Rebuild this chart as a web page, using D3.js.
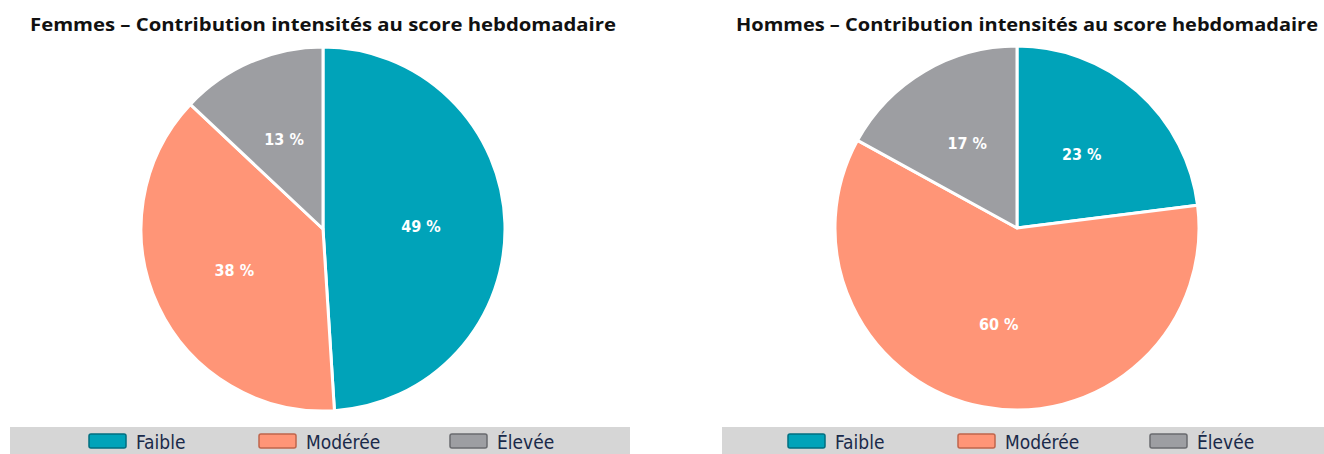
<!DOCTYPE html>
<html>
<head>
<meta charset="utf-8">
<script src="https://cdn.jsdelivr.net/npm/d3@7"></script>
<style>
	body { margin: 0; background: #fff; }
	.title { font-family: 'Open Sans', 'DejaVu Sans', sans-serif; font-weight: 700; font-size: 18px; fill: #111; }
	.slice-label { font-family: 'DejaVu Sans Condensed', 'DejaVu Sans', sans-serif; font-weight: 700; font-size: 16px; fill: #fff; }
	.legend-text { font-family: 'DejaVu Sans Condensed', 'DejaVu Sans', sans-serif; font-size: 19px; fill: #1a2a4a; }
</style>
</head>
<body>
<svg id="chart" width="1324" height="454"></svg>
<script>
'use strict';

var aCategories = ['Faible', 'Modérée', 'Élevée'];
var aColors = ['#00a3b9', '#ff9577', '#9d9ea2'];
var aBorders = ['#006f80', '#c0654c', '#6a6b6f'];
var aTitles = ['Femmes – Contribution intensités au score hebdomadaire', 'Hommes – Contribution intensités au score hebdomadaire'];
var aFemmes = [49, 38, 13];
var aHommes = [23, 60, 17];

var sSvg = d3.select('#chart');

function DrawPie(nCx, nCy, nRadius, strTitle, aValues, rBand)
{
	sSvg.append('text')
		.attr('class', 'title')
		.attr('x', rBand.titleX)
		.attr('y', 31)
		.attr('text-anchor', 'middle')
		.attr('textLength', rBand.titleW)
		.attr('lengthAdjust', 'spacingAndGlyphs')
		.text(strTitle);

	var pie = d3.pie().sort(null).value(function(d) { return d; });
	var arc = d3.arc().innerRadius(0).outerRadius(nRadius);
	var arcLabel = d3.arc().innerRadius(98).outerRadius(98);

	var sChart = sSvg.append('g')
		.attr('transform', 'translate(' + nCx + ',' + nCy + ')');

	var aArcs = pie(aValues);

	sChart.selectAll('path')
		.data(aArcs)
		.enter()
			.append('path')
				.attr('d', arc)
				.attr('fill', function(d, i) { return aColors[i]; })
				.attr('stroke', '#fff')
				.attr('stroke-width', 3)
				.attr('stroke-linejoin', 'round');

	sChart.selectAll('.slice-label')
		.data(aArcs)
		.enter()
			.append('text')
				.attr('class', 'slice-label')
				.attr('transform', function(d) { return 'translate(' + arcLabel.centroid(d) + ')'; })
				.attr('dy', '0.35em')
				.attr('text-anchor', 'middle')
				.text(function(d) { return d.data + ' %'; });

	// legend band
	sSvg.append('rect')
		.attr('x', rBand.x)
		.attr('y', 427)
		.attr('width', rBand.w)
		.attr('height', 27)
		.attr('fill', '#d6d6d6');

	var sLegends = sSvg.selectAll(null)
		.data(aCategories)
		.enter()
			.append('g')
				.attr('transform', function(d, i) { return 'translate(' + rBand.tabs[i] + ',434)'; });

	sLegends.append('rect')
		.attr('x', 0)
		.attr('y', 0)
		.attr('width', 37)
		.attr('height', 14)
		.attr('rx', 2)
		.attr('fill', function(d, i) { return aColors[i]; })
		.attr('stroke', function(d, i) { return aBorders[i]; })
		.attr('stroke-width', 1.5);

	sLegends.append('text')
		.attr('class', 'legend-text')
		.attr('x', 47)
		.attr('y', 15)
		.text(function(d) { return d; });
}

DrawPie(323, 229, 182, aTitles[0], aFemmes, {x: 10, w: 620, tabs: [89, 259, 450], titleX: 323, titleW: 586});
DrawPie(1017, 228, 182, aTitles[1], aHommes, {x: 722, w: 602, tabs: [788, 958, 1150], titleX: 1027, titleW: 582});
</script>
</body>
</html>
